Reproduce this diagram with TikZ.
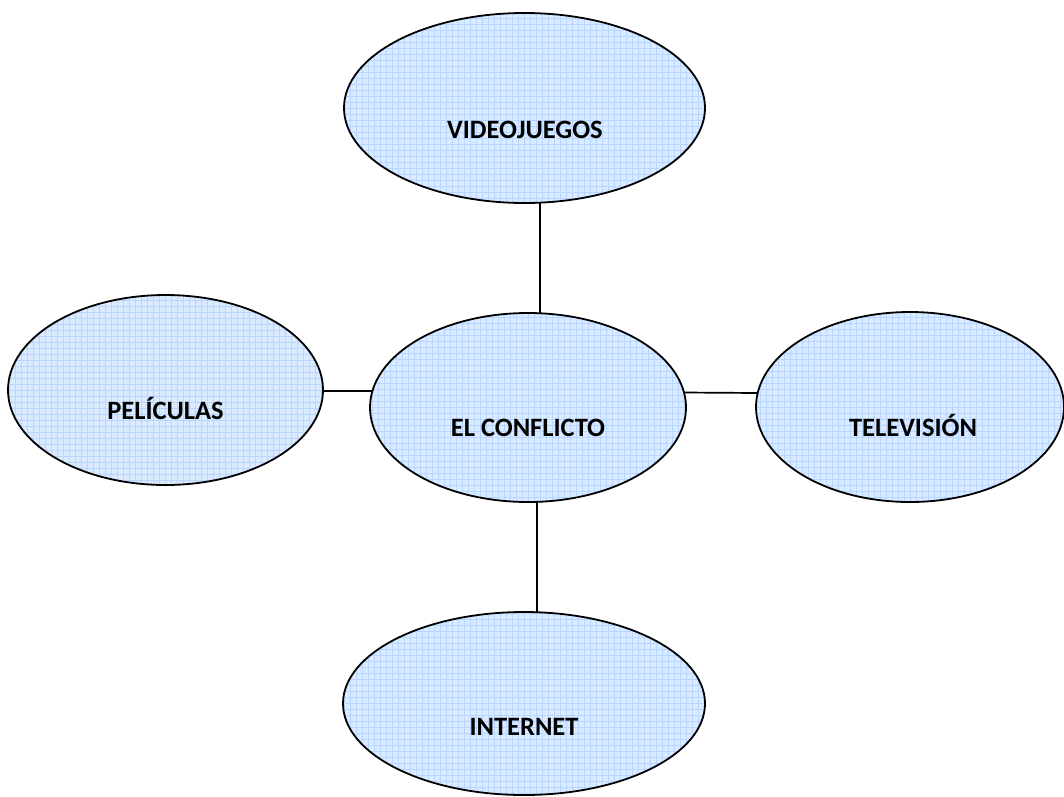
\documentclass[tikz,border=0pt]{standalone}
\usepackage{fontspec}
\setmainfont{Carlito}
\usetikzlibrary{shapes.geometric,backgrounds}
\definecolor{bubblefill}{RGB}{218,234,255}
\definecolor{gridc}{RGB}{184,214,255}
\tikzset{
  bubble/.style={ellipse, draw=black, line width=1.8pt, fill=bubblefill, inner sep=0pt,
    path picture={\draw[gridc, line width=0.5pt] (path picture bounding box.south west) grid[step=6pt] (path picture bounding box.north east);}},
  lbl/.style={font=\fontsize{26.5}{30}\selectfont\bfseries, text height=17pt, text depth=0pt, inner sep=0pt},
  link/.style={draw=black, line width=1.7pt}
}
\begin{document}
\begin{tikzpicture}[x=1pt,y=-1pt]
\useasboundingbox (0,0) rectangle (1064,796);
\node[bubble, minimum width=361pt, minimum height=190pt,
  label={[lbl, yshift=-22pt, xshift=0.5pt]center:VIDEOJUEGOS}] (v) at (524.5,108) {};
\node[bubble, minimum width=315pt, minimum height=190pt,
  label={[lbl, yshift=-21pt]center:PELÍCULAS}] (p) at (165.5,390) {};
\node[bubble, minimum width=316pt, minimum height=189pt,
  label={[lbl, yshift=-20pt]center:EL CONFLICTO}] (c) at (528,407.5) {};
\node[bubble, minimum width=308pt, minimum height=190pt,
  label={[lbl, yshift=-21pt, xshift=3pt]center:TELEVISIÓN}] (t) at (910,407) {};
\node[bubble, minimum width=362pt, minimum height=183pt,
  label={[lbl, yshift=-23.5pt]center:INTERNET}] (i) at (524,703.5) {};
\begin{scope}[on background layer]
\draw[link] ([xshift=15.5pt,yshift=3pt]v.south) -- ([xshift=12pt,yshift=-3pt]c.north);
\draw[link] ([xshift=-3pt,yshift=-1pt]p.east) -- ([xshift=6pt,yshift=16.5pt]c.west);
\draw[link] ([xshift=-3pt,yshift=15pt]c.east) -- ([xshift=3pt,yshift=14pt]t.west);
\draw[link] ([xshift=9pt,yshift=3pt]c.south) -- ([xshift=13pt,yshift=-3pt]i.north);
\end{scope}
\end{tikzpicture}
\end{document}
